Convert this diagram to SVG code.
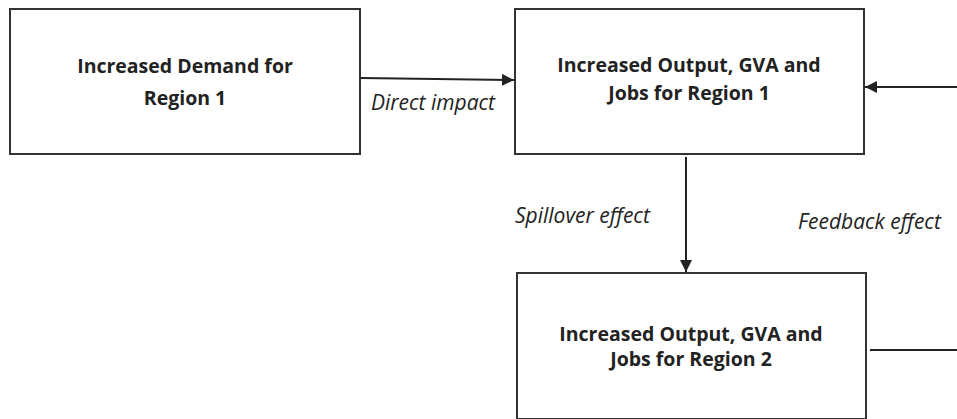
<svg xmlns="http://www.w3.org/2000/svg" width="957" height="419" viewBox="0 0 957 419">
<defs>
<style>
.box{fill:#fff;stroke:#333;stroke-width:2}
.t{font-family:"Open Sans","Liberation Sans",sans-serif;font-weight:bold;font-size:19.5px;fill:#222;text-anchor:middle}
.lbl{font-family:"Open Sans","Liberation Sans",sans-serif;font-style:italic;font-size:21px;fill:#222}
.ln{stroke:#222;stroke-width:2;fill:none}
</style>
<marker id="ah" viewBox="0 0 10 10" refX="10" refY="5" markerWidth="6" markerHeight="6" orient="auto" markerUnits="strokeWidth">
<path d="M0,0 L10,5 L0,10 z" fill="#222"/>
</marker>
</defs>
<rect width="957" height="419" fill="#fff"/>
<g id="node-demand">
<rect class="box" x="10" y="9" width="350" height="145"/>
<text class="t" x="185" y="73">Increased Demand for</text>
<text class="t" x="185" y="105">Region 1</text>
</g>
<g id="node-region1">
<rect class="box" x="515" y="9" width="349" height="145"/>
<text class="t" x="689" y="72">Increased Output, GVA and</text>
<text class="t" x="689" y="100">Jobs for Region 1</text>
</g>
<g id="node-region2">
<rect class="box" x="517" y="273" width="349" height="146"/>
<text class="t" x="691" y="341">Increased Output, GVA and</text>
<text class="t" x="691" y="366">Jobs for Region 2</text>
</g>
<g id="connectors">
<line class="ln" x1="361" y1="78" x2="514" y2="80" marker-end="url(#ah)"/>
<line class="ln" x1="686" y1="157" x2="686" y2="272" marker-end="url(#ah)"/>
<line class="ln" x1="957" y1="87" x2="865" y2="87" marker-end="url(#ah)"/>
<line class="ln" x1="870" y1="350" x2="957" y2="350"/>
<text class="lbl" x="371" y="110">Direct impact</text>
<text class="lbl" x="515" y="223">Spillover effect</text>
<text class="lbl" x="798" y="229">Feedback effect</text>
</g>
</svg>
